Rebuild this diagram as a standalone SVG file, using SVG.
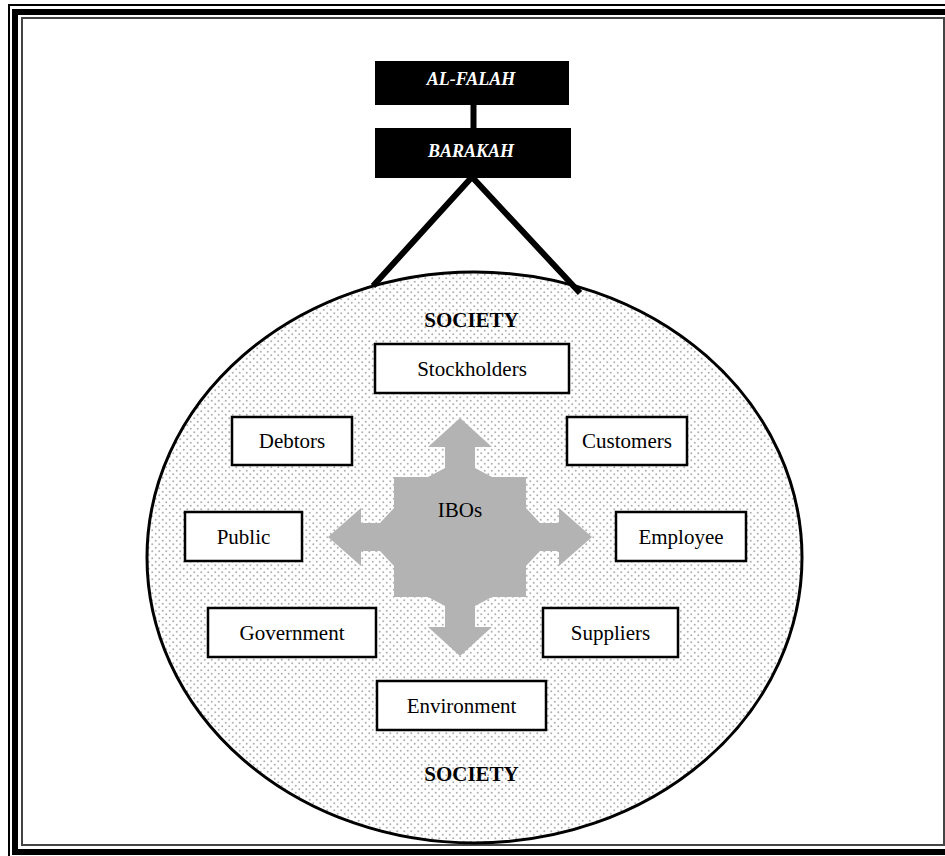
<svg xmlns="http://www.w3.org/2000/svg" width="945" height="856" viewBox="0 0 945 856">
<defs>
<pattern id="dots" width="7" height="7" patternUnits="userSpaceOnUse">
<rect width="7" height="7" fill="#ffffff"/>
<circle cx="1.75" cy="1.75" r="1" fill="#b0b0b0"/>
<circle cx="5.25" cy="5.25" r="1" fill="#b0b0b0"/>
</pattern>
<style>
.node rect.box{fill:#fff;stroke:#000;stroke-width:2.5}
.lbl{font-family:"Liberation Serif","Times New Roman",serif;font-size:21px;fill:#000;text-anchor:middle}
.top rect{fill:#000}
.top text{font-family:"Liberation Serif","Times New Roman",serif;font-size:18px;font-weight:bold;font-style:italic;fill:#fff;text-anchor:middle}
.soc{font-family:"Liberation Serif","Times New Roman",serif;font-size:21px;font-weight:bold;fill:#000;text-anchor:middle}
.conn line,.conn polyline{stroke:#000;stroke-width:6;fill:none}
</style>
</defs>
<rect width="945" height="856" fill="#fff"/>
<g id="frame" fill="none">
<rect x="9" y="5" width="960" height="870" stroke="#000" stroke-width="2"/>
<rect x="15" y="12" width="950" height="840" stroke="#000" stroke-width="6"/>
<rect x="22" y="18" width="922" height="827" stroke="#444" stroke-width="2"/>
</g>
<g id="society">
<ellipse cx="474.5" cy="557.5" rx="327.5" ry="285.5" fill="url(#dots)" stroke="#000" stroke-width="3"/>
<text class="soc" x="471.5" y="327">SOCIETY</text>
<text class="soc" x="471.5" y="781">SOCIETY</text>
</g>
<g id="connectors" class="conn">
<line x1="473.5" y1="104" x2="473.5" y2="129"/>
<polyline points="373,286 472,177 580,293" stroke-linejoin="miter"/>
</g>
<g id="alfalah" class="top">
<rect x="375" y="61" width="194" height="44"/>
<text x="471" y="85">AL-FALAH</text>
</g>
<g id="barakah" class="top">
<rect x="375" y="128" width="196" height="50"/>
<text x="471" y="157">BARAKAH</text>
</g>
<g id="ibos">
<polygon fill="#b3b3b3" points="460,418 492,447 475,447 475,468 492,477 526,477 526,508 540,523 559,523 559,508 592,537 559,566 559,551 540,551 526,566 526,597 492,597 475,606 475,627 492,627 460,656 428,627 445,627 445,606 428,597 394,597 394,566 380,551 361,551 361,566 328,537 361,508 361,523 380,523 394,508 394,477 428,477 445,468 445,447 428,447"/>
<text class="lbl" x="460" y="517">IBOs</text>
</g>
<g id="stockholders" class="node"><rect class="box" x="375" y="344" width="194" height="49"/><text class="lbl" x="472" y="376">Stockholders</text></g>
<g id="debtors" class="node"><rect class="box" x="232" y="417" width="120" height="48"/><text class="lbl" x="292" y="448">Debtors</text></g>
<g id="customers" class="node"><rect class="box" x="567" y="417" width="120" height="48"/><text class="lbl" x="627" y="448">Customers</text></g>
<g id="public" class="node"><rect class="box" x="185" y="512" width="117" height="49"/><text class="lbl" x="243.5" y="543.5">Public</text></g>
<g id="employee" class="node"><rect class="box" x="616" y="512" width="130" height="49"/><text class="lbl" x="681" y="543.5">Employee</text></g>
<g id="government" class="node"><rect class="box" x="208" y="608" width="168" height="49"/><text class="lbl" x="292" y="639.5">Government</text></g>
<g id="suppliers" class="node"><rect class="box" x="543" y="608" width="135" height="49"/><text class="lbl" x="610.5" y="639.5">Suppliers</text></g>
<g id="environment" class="node"><rect class="box" x="377" y="681" width="169" height="49"/><text class="lbl" x="461.5" y="712.5">Environment</text></g>
</svg>
